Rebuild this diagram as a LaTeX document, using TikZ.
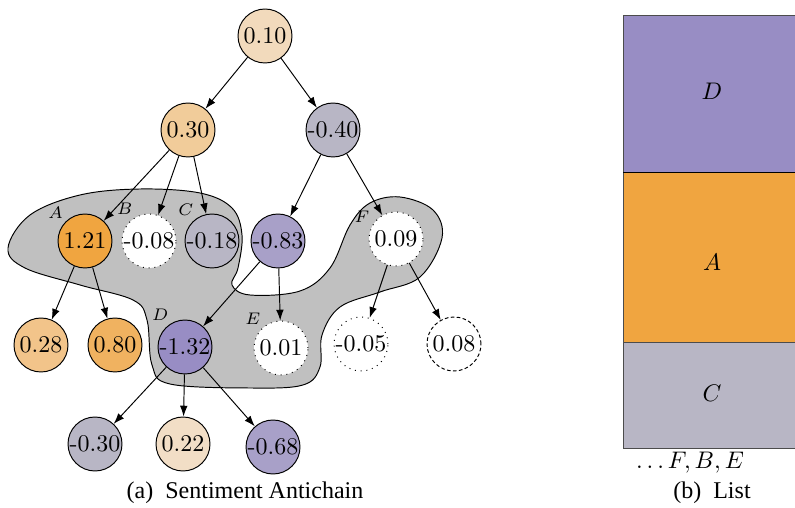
\documentclass[tikz,border=0pt]{standalone}
\usepackage{amsmath}
\usepackage{fontspec}
\newfontfamily\capfont{Liberation Serif}
\usetikzlibrary{arrows.meta}

\definecolor{peachlight}{RGB}{242,218,188}
\definecolor{peach}{RGB}{241,204,154}
\definecolor{peachmid}{RGB}{242,196,138}
\definecolor{orangemid}{RGB}{240,178,96}
\definecolor{orangedark}{RGB}{240,165,64}
\definecolor{creamlight}{RGB}{242,222,198}
\definecolor{greyviolet}{RGB}{184,182,197}
\definecolor{violetmid}{RGB}{168,160,200}
\definecolor{violetdark}{RGB}{152,141,196}
\definecolor{blobgrey}{RGB}{192,192,192}

\tikzset{
  val/.style={circle, draw, minimum size=22.5pt, inner sep=0pt, font=\normalsize},
  dotval/.style={val, dotted, fill=white},
  dashval/.style={val, dash pattern=on 1.5pt off 1pt, fill=white},
  tag/.style={font=\scriptsize, inner sep=1pt},
  arr/.style={-{Latex[length=4.5pt, width=3.2pt]}},
}

\begin{document}
\begin{tikzpicture}[x=0.4167pt, y=-0.4167pt]
\useasboundingbox (0,0) rectangle (795,508);

% Antichain region
\draw[fill=blobgrey] plot[smooth cycle, tension=0.6] coordinates {
  (8,248) (30,215) (80,195) (140,189) (200,193) (232,208) (242,235)
  (238,268) (232,285) (250,295) (300,291) (330,268) (350,225) (370,203)
  (400,197) (433,210) (442,238) (420,277) (380,292) (340,307) (322,335)
  (320,367) (303,385) (250,388) (170,384) (152,365) (147,320) (133,300)
  (80,285) (25,268)};

% Tree nodes
\node[val, fill=peachlight] (n010) at (265,36) {0.10};
\node[val, fill=peach] (n030) at (188,130) {0.30};
\node[val, fill=greyviolet] (nm040) at (333,130) {-0.40};

\node[val, fill=orangedark, label={[tag]135:$A$}] (n121) at (85,241) {1.21};
\node[dotval, label={[tag]120:$B$}] (nm008) at (149,241) {-0.08};
\node[val, fill=greyviolet, label={[tag]125:$C$}] (nm018) at (212,241) {-0.18};
\node[val, fill=violetmid] (nm083) at (278,241) {-0.83};
\node[dotval, label={[tag]150:$F$}] (n009) at (396,239) {0.09};

\node[val, fill=peachmid] (n028) at (41,345) {0.28};
\node[val, fill=orangemid] (n080) at (115,345) {0.80};
\node[val, fill=violetdark, label={[tag]120:$D$}] (nm132) at (185,347) {-1.32};
\node[dotval, label={[tag]130:$E$}] (n001) at (281,348) {0.01};
\node[dotval] (nm005) at (361,344) {-0.05};
\node[dashval] (n008) at (454,344) {0.08};

\node[val, fill=greyviolet] (nm030) at (95,444) {-0.30};
\node[val, fill=creamlight] (n022) at (183,444) {0.22};
\node[val, fill=violetmid] (nm068) at (273,447) {-0.68};

% Edges
\draw[arr] (n010) -- (n030);
\draw[arr] (n010) -- (nm040);
\draw[arr] (n030) -- (n121);
\draw[arr] (n030) -- (nm008);
\draw[arr] (n030) -- (nm018);
\draw[arr] (nm040) -- (nm083);
\draw[arr] (nm040) -- (n009);
\draw[arr] (n121) -- (n028);
\draw[arr] (n121) -- (n080);
\draw[arr] (nm083) -- (nm132);
\draw[arr] (nm083) -- (n001);
\draw[arr] (n009) -- (nm005);
\draw[arr] (n009) -- (n008);
\draw[arr] (nm132) -- (nm030);
\draw[arr] (nm132) -- (n022);
\draw[arr] (nm132) -- (nm068);

% List
\draw[draw=black!70, fill=violetdark] (623,15) rectangle (810,172);
\draw[draw=black!70, fill=orangedark] (623,172) rectangle (810,342);
\draw[draw=black!70, fill=greyviolet] (623,342) rectangle (810,448);
\draw (623,172) -- (810,172);
\node (listD) at (712,91) {$D$};
\node (listA) at (712,262) {$A$};
\node (listC) at (712,393) {$C$};
\node (rest) at (690,463) {$\dots F, B, E$};

% Captions
\node[font=\capfont] (capa) at (245,493) {(a)~~Sentiment Antichain};
\node[font=\capfont] (capb) at (712,493) {(b)~~List};
\end{tikzpicture}
\end{document}
